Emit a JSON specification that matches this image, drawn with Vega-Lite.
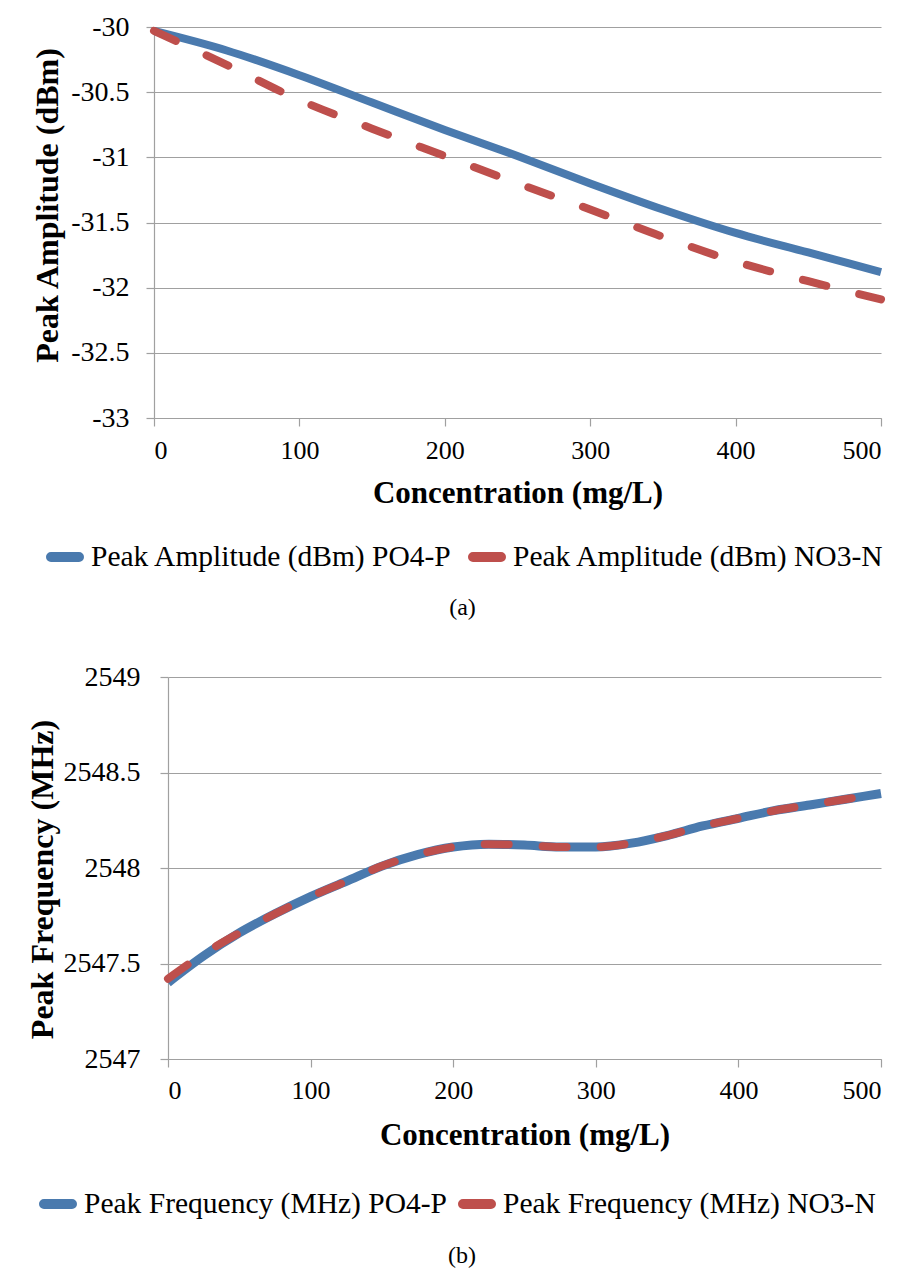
{
  "$schema": "https://vega.github.io/schema/vega-lite/v6.json",
  "background": "white",
  "padding": {"left": 25, "top": 13, "right": 5, "bottom": 5},
  "spacing": 43,
  "config": {
    "font": "Liberation Serif",
    "view": {"stroke": null},
    "axis": {
      "gridColor": "#a0a0a0",
      "gridWidth": 1.2,
      "domainColor": "#a0a0a0",
      "domainWidth": 1.2,
      "tickColor": "#a0a0a0",
      "tickWidth": 1.2,
      "tickSize": 8,
      "labelColor": "#000000",
      "titleColor": "#000000",
      "labelFont": "Liberation Serif",
      "titleFont": "Liberation Serif"
    },
    "legend": {"labelFont": "Liberation Serif", "labelColor": "#000000"},
    "title": {"font": "Liberation Serif", "color": "#000000"}
  },
  "datasets": {
    "amp": [
      {"conc": 0, "value": -30.03, "series": "Peak Amplitude (dBm) PO4-P"},
      {"conc": 50, "value": -30.18, "series": "Peak Amplitude (dBm) PO4-P"},
      {"conc": 100, "value": -30.37, "series": "Peak Amplitude (dBm) PO4-P"},
      {"conc": 150, "value": -30.58, "series": "Peak Amplitude (dBm) PO4-P"},
      {"conc": 200, "value": -30.79, "series": "Peak Amplitude (dBm) PO4-P"},
      {"conc": 250, "value": -30.99, "series": "Peak Amplitude (dBm) PO4-P"},
      {"conc": 300, "value": -31.2, "series": "Peak Amplitude (dBm) PO4-P"},
      {"conc": 350, "value": -31.4, "series": "Peak Amplitude (dBm) PO4-P"},
      {"conc": 400, "value": -31.58, "series": "Peak Amplitude (dBm) PO4-P"},
      {"conc": 450, "value": -31.73, "series": "Peak Amplitude (dBm) PO4-P"},
      {"conc": 500, "value": -31.88, "series": "Peak Amplitude (dBm) PO4-P"},
      {"conc": 0, "value": -30.03, "series": "Peak Amplitude (dBm) NO3-N"},
      {"conc": 50, "value": -30.29, "series": "Peak Amplitude (dBm) NO3-N"},
      {"conc": 100, "value": -30.56, "series": "Peak Amplitude (dBm) NO3-N"},
      {"conc": 150, "value": -30.78, "series": "Peak Amplitude (dBm) NO3-N"},
      {"conc": 200, "value": -30.99, "series": "Peak Amplitude (dBm) NO3-N"},
      {"conc": 250, "value": -31.2, "series": "Peak Amplitude (dBm) NO3-N"},
      {"conc": 300, "value": -31.4, "series": "Peak Amplitude (dBm) NO3-N"},
      {"conc": 350, "value": -31.61, "series": "Peak Amplitude (dBm) NO3-N"},
      {"conc": 400, "value": -31.8, "series": "Peak Amplitude (dBm) NO3-N"},
      {"conc": 450, "value": -31.95, "series": "Peak Amplitude (dBm) NO3-N"},
      {"conc": 500, "value": -32.09, "series": "Peak Amplitude (dBm) NO3-N"}
    ],
    "freq": [
      {"conc": 0, "value": 2547.4, "series": "Peak Frequency (MHz) PO4-P"},
      {"conc": 25, "value": 2547.54, "series": "Peak Frequency (MHz) PO4-P"},
      {"conc": 50, "value": 2547.66, "series": "Peak Frequency (MHz) PO4-P"},
      {"conc": 75, "value": 2547.76, "series": "Peak Frequency (MHz) PO4-P"},
      {"conc": 100, "value": 2547.85, "series": "Peak Frequency (MHz) PO4-P"},
      {"conc": 125, "value": 2547.93, "series": "Peak Frequency (MHz) PO4-P"},
      {"conc": 150, "value": 2548.01, "series": "Peak Frequency (MHz) PO4-P"},
      {"conc": 175, "value": 2548.07, "series": "Peak Frequency (MHz) PO4-P"},
      {"conc": 200, "value": 2548.11, "series": "Peak Frequency (MHz) PO4-P"},
      {"conc": 225, "value": 2548.125, "series": "Peak Frequency (MHz) PO4-P"},
      {"conc": 250, "value": 2548.12, "series": "Peak Frequency (MHz) PO4-P"},
      {"conc": 275, "value": 2548.11, "series": "Peak Frequency (MHz) PO4-P"},
      {"conc": 300, "value": 2548.11, "series": "Peak Frequency (MHz) PO4-P"},
      {"conc": 325, "value": 2548.13, "series": "Peak Frequency (MHz) PO4-P"},
      {"conc": 350, "value": 2548.17, "series": "Peak Frequency (MHz) PO4-P"},
      {"conc": 375, "value": 2548.22, "series": "Peak Frequency (MHz) PO4-P"},
      {"conc": 400, "value": 2548.26, "series": "Peak Frequency (MHz) PO4-P"},
      {"conc": 425, "value": 2548.3, "series": "Peak Frequency (MHz) PO4-P"},
      {"conc": 450, "value": 2548.33, "series": "Peak Frequency (MHz) PO4-P"},
      {"conc": 475, "value": 2548.36, "series": "Peak Frequency (MHz) PO4-P"},
      {"conc": 500, "value": 2548.39, "series": "Peak Frequency (MHz) PO4-P"},
      {"conc": 0, "value": 2547.42, "series": "Peak Frequency (MHz) NO3-N"},
      {"conc": 25, "value": 2547.55, "series": "Peak Frequency (MHz) NO3-N"},
      {"conc": 50, "value": 2547.66, "series": "Peak Frequency (MHz) NO3-N"},
      {"conc": 75, "value": 2547.76, "series": "Peak Frequency (MHz) NO3-N"},
      {"conc": 100, "value": 2547.85, "series": "Peak Frequency (MHz) NO3-N"},
      {"conc": 125, "value": 2547.93, "series": "Peak Frequency (MHz) NO3-N"},
      {"conc": 150, "value": 2548.01, "series": "Peak Frequency (MHz) NO3-N"},
      {"conc": 175, "value": 2548.07, "series": "Peak Frequency (MHz) NO3-N"},
      {"conc": 200, "value": 2548.11, "series": "Peak Frequency (MHz) NO3-N"},
      {"conc": 225, "value": 2548.125, "series": "Peak Frequency (MHz) NO3-N"},
      {"conc": 250, "value": 2548.12, "series": "Peak Frequency (MHz) NO3-N"},
      {"conc": 275, "value": 2548.11, "series": "Peak Frequency (MHz) NO3-N"},
      {"conc": 300, "value": 2548.11, "series": "Peak Frequency (MHz) NO3-N"},
      {"conc": 325, "value": 2548.13, "series": "Peak Frequency (MHz) NO3-N"},
      {"conc": 350, "value": 2548.17, "series": "Peak Frequency (MHz) NO3-N"},
      {"conc": 375, "value": 2548.22, "series": "Peak Frequency (MHz) NO3-N"},
      {"conc": 400, "value": 2548.26, "series": "Peak Frequency (MHz) NO3-N"},
      {"conc": 425, "value": 2548.3, "series": "Peak Frequency (MHz) NO3-N"},
      {"conc": 450, "value": 2548.33, "series": "Peak Frequency (MHz) NO3-N"},
      {"conc": 475, "value": 2548.36, "series": "Peak Frequency (MHz) NO3-N"},
      {"conc": 500, "value": 2548.39, "series": "Peak Frequency (MHz) NO3-N"}
    ]
  },
  "vconcat": [
    {
      "width": 727,
      "height": 391,
      "data": {"name": "amp"},
      "title": {"text": "(a)", "orient": "bottom", "anchor": "middle", "frame": "group", "dx": -55, "offset": -1, "fontSize": 24, "fontWeight": "normal", "font": "Liberation Serif"},
      "encoding": {
        "x": {
          "field": "conc", "type": "quantitative",
          "scale": {"domain": [0, 500], "nice": false},
          "axis": {"values": [0, 100, 200, 300, 400, 500], "grid": false, "title": "Concentration (mg/L)",
            "labelFont": "Liberation Serif", "titleFont": "Liberation Serif",
            "labelFontSize": 26, "labelPadding": 11, "titleFontSize": 31, "titleFontWeight": "bold",
            "titleBaseline": "alphabetic", "titleY": 84}
        },
        "y": {
          "field": "value", "type": "quantitative",
          "scale": {"domain": [-33, -30], "nice": false, "zero": false},
          "axis": {"values": [-33, -32.5, -32, -31.5, -31, -30.5, -30], "format": "~g",
            "labelExpr": "replace(datum.label, '\u2212', '-')",
            "labelFont": "Liberation Serif", "titleFont": "Liberation Serif",
            "labelFontSize": 28, "labelPadding": 17, "title": "Peak Amplitude (dBm)",
            "titleFontSize": 32, "titleFontWeight": "bold", "titleX": -106.5, "titleY": 178, "titleBaseline": "middle"}
        },
        "color": {
          "field": "series", "type": "nominal",
          "scale": {"domain": ["Peak Amplitude (dBm) PO4-P", "Peak Amplitude (dBm) NO3-N"], "range": ["#4a7aae", "#be4f4c"]},
          "legend": {"title": null, "orient": "none", "direction": "horizontal", "legendX": -128, "legendY": 491, "padding": 20,
            "symbolType": "stroke", "symbolSize": 784, "symbolStrokeWidth": 10, "symbolDash": [1, 0],
            "labelFont": "Liberation Serif",
            "labelFontSize": 29.5, "labelOffset": 7, "columnPadding": 0, "labelLimit": 1000,
            "encode": {"symbols": {"update": {"strokeCap": {"value": "round"}}}}}
        }
      },
      "layer": [
        {"transform": [{"filter": "datum.series === 'Peak Amplitude (dBm) PO4-P'"}],
         "mark": {"type": "line", "interpolate": "monotone", "strokeWidth": 8}},
        {"transform": [{"filter": "datum.series === 'Peak Amplitude (dBm) NO3-N'"}],
         "mark": {"type": "line", "interpolate": "monotone", "strokeWidth": 8, "strokeDash": [24, 34], "strokeCap": "round"}}
      ]
    },
    {
      "width": 727,
      "height": 382,
      "data": {"name": "freq"},
      "title": {"text": "(b)", "orient": "bottom", "anchor": "middle", "frame": "group", "dx": -55.5, "offset": 20, "fontSize": 24, "fontWeight": "normal", "font": "Liberation Serif"},
      "encoding": {
        "x": {
          "field": "conc", "type": "quantitative",
          "scale": {"domain": [0, 500], "nice": false, "range": [14, 727]},
          "axis": {"values": [0, 100, 200, 300, 400, 500], "grid": false, "title": "Concentration (mg/L)",
            "labelFont": "Liberation Serif", "titleFont": "Liberation Serif",
            "labelFontSize": 26, "labelPadding": 10, "titleFontSize": 31, "titleFontWeight": "bold",
            "titleBaseline": "alphabetic", "titleY": 85}
        },
        "y": {
          "field": "value", "type": "quantitative",
          "scale": {"domain": [2547, 2549], "nice": false, "zero": false},
          "axis": {"values": [2547, 2547.5, 2548, 2548.5, 2549], "format": "~g", "offset": -14,
            "labelFont": "Liberation Serif", "titleFont": "Liberation Serif",
            "labelFontSize": 28, "labelPadding": 20, "title": "Peak Frequency (MHz)",
            "titleFontSize": 32, "titleFontWeight": "bold", "titleX": -126, "titleY": 202, "titleBaseline": "middle"}
        },
        "color": {
          "field": "series", "type": "nominal",
          "scale": {"domain": ["Peak Frequency (MHz) PO4-P", "Peak Frequency (MHz) NO3-N"], "range": ["#4a7aae", "#be4f4c"]},
          "legend": {"title": null, "orient": "none", "direction": "horizontal", "legendX": -115, "legendY": 508, "padding": 0,
            "symbolType": "stroke", "symbolSize": 784, "symbolStrokeWidth": 10, "symbolDash": [1, 0],
            "labelFont": "Liberation Serif",
            "labelFontSize": 29.5, "labelOffset": 7, "columnPadding": -4, "labelLimit": 1000,
            "encode": {"symbols": {"update": {"strokeCap": {"value": "round"}}}}}
        }
      },
      "layer": [
        {"transform": [{"filter": "datum.series === 'Peak Frequency (MHz) PO4-P'"}],
         "mark": {"type": "line", "interpolate": "monotone", "strokeWidth": 9}},
        {"transform": [{"filter": "datum.series === 'Peak Frequency (MHz) NO3-N'"}],
         "mark": {"type": "line", "interpolate": "monotone", "strokeWidth": 8, "strokeDash": [24, 34], "strokeCap": "round"}}
      ]
    }
  ],
  "resolve": {"scale": {"color": "independent"}}
}
